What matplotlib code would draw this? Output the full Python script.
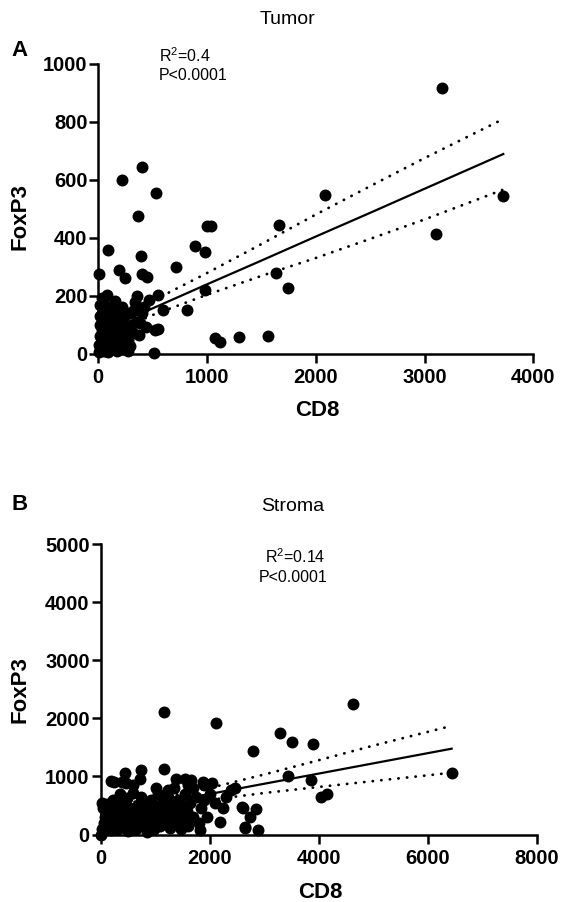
import numpy as np
import matplotlib
matplotlib.use("Agg")
from matplotlib import pyplot as plt

plt.rcParams['font.family'] = ['Liberation Sans', 'DejaVu Sans']
plt.rcParams['mathtext.fontset'] = 'custom'
plt.rcParams['mathtext.rm'] = 'Liberation Sans'

# panel A - tumor
tumor_cd8 = [3162, 3724, 3107, 2085, 1661, 1630, 1740, 1556,
             400, 215, 531, 368, 1000, 1035, 886, 983, 86, 390, 712, 10,
             194, 246, 400, 446, 983, 814, 599, 553, 470, 353, 338, 77,
             16, 123, 522, 545, 513, 1075, 1121, 1290, 375,
             5, 10, 12, 15, 20, 25, 30, 35, 40, 45, 50, 55, 60, 65, 70,
             80, 85, 90, 95, 100, 110, 120, 130, 140, 150, 160, 170, 180,
             190, 200, 210, 220, 230, 240, 250, 260, 270, 280, 290, 300,
             320, 330, 350, 380, 400, 420, 440, 270, 30, 150]
tumor_foxp3 = [918, 545, 413, 548, 443, 279, 225, 60,
               643, 599, 553, 476, 440, 442, 371, 350, 357, 337, 298, 273,
               288, 262, 273, 263, 219, 150, 150, 202, 185, 200, 179, 202,
               168, 162, 81, 84, 3, 52, 41, 58, 65,
               5, 30, 60, 100, 130, 15, 45, 80, 110, 150, 10, 170, 60, 25, 130,
               90, 5, 150, 40, 110, 70, 20, 140, 95, 50, 120, 10, 75,
               150, 35, 105, 160, 60, 130, 15, 90, 45, 140, 25, 100,
               70, 150, 110, 105, 140, 160, 90, 8, 190, 180]

# regression line and 95% band
tumor_fit_x = [0, 500, 1000, 1500, 2000, 2500, 3000, 3724]
tumor_fit = [74, 156, 239, 321, 404, 486, 569, 689]
tumor_upper = [99, 182, 278, 378, 480, 578, 675, 810]
tumor_lower = [49, 133, 203, 268, 330, 396, 463, 566]

# panel B - stroma
stroma_cd8 = [4625, 3292, 3518, 3891, 2791, 3445, 3855, 4038, 4160, 6452,
              2619, 2852, 2742, 2650, 2894, 1165, 2124, 187, 444, 749, 1165,
              719, 474, 1391, 1544, 1665, 1880, 2045, 1238, 1024, 2399, 2461,
              2247, 2186, 2595, 2644, 0, 33,
              50, 80, 100, 120, 150, 180, 200, 230, 250, 280, 300, 330, 350,
              380, 400, 430, 450, 480, 500, 520, 550, 580, 600, 620, 650, 680,
              700, 730, 750, 780, 800, 830, 850, 880, 900, 930, 950, 980, 1000,
              1030, 1050, 1080, 1100, 1130, 1150, 1180, 1200, 1230, 1250, 1280,
              1300, 1330, 1350, 1380, 1400, 1430, 1450, 1480, 1500, 1530, 1550,
              1580, 1600, 1650, 1700, 1750, 1800, 1850, 1900, 1950, 2000, 1820,
              1700, 1600, 1900, 600, 400, 250, 100, 60, 30, 2100, 2300]
stroma_foxp3 = [2251, 1742, 1597, 1552, 1437, 1007, 938, 640, 697, 1053,
                451, 439, 306, 107, 77, 2114, 1913, 921, 1053, 1110, 1122,
                950, 881, 960, 960, 930, 900, 880, 766, 795, 766, 795,
                451, 220, 468, 134, 0, 537,
                450, 300, 150, 520, 250, 380, 80, 600, 320, 180, 450, 100, 700,
                280, 520, 150, 380, 620, 60, 250, 450, 180, 720, 330, 100, 500,
                250, 400, 650, 150, 300, 550, 50, 420, 200, 600, 350, 100, 480,
                250, 700, 380, 150, 550, 300, 450, 200, 650, 380, 120,
                520, 280, 800, 420, 180, 600, 350, 100, 500, 250, 700,
                400, 150, 550, 300, 650, 200, 450, 600, 300, 700, 80,
                800, 850, 850, 850, 900, 900, 350, 200, 100, 550, 650]

stroma_fit_x = [0, 1000, 2000, 3000, 4000, 5000, 6440]
stroma_fit = [346, 522, 697, 873, 1048, 1224, 1477]
stroma_upper = [480, 611, 799, 1032, 1278, 1529, 1870]
stroma_lower = [212, 433, 595, 714, 818, 919, 1063]

W, H = 561, 902
fig = plt.figure(figsize=(W / 100, H / 100), dpi=100)


def panel(rect, cd8, foxp3, fit_x, fit, upper, lower, xmax, xstep, ymax, ystep):
    ax = fig.add_axes(rect)
    ax.scatter(cd8, foxp3, s=74, color='black', linewidths=0, zorder=3, clip_on=False)
    ax.plot(fit_x, fit, color='black', lw=1.6, zorder=2)
    for band in (upper, lower):
        ax.plot(fit_x, band, color='black', lw=2.0, linestyle=(0, (0.1, 3.0)),
                dash_capstyle='round', zorder=2)
    ax.set_xlim(0, xmax)
    ax.set_ylim(0, ymax)
    ax.set_xticks(np.arange(0, xmax + 1, xstep))
    ax.set_yticks(np.arange(0, ymax + 1, ystep))
    for s in ('top', 'right'):
        ax.spines[s].set_visible(False)
    for s in ('left', 'bottom'):
        ax.spines[s].set_linewidth(1.8)
    ax.tick_params(direction='out', length=6.3, width=1.8, labelsize=14.5)
    ax.tick_params(axis='x', pad=4)
    ax.tick_params(axis='y', pad=1.5)
    for lab in ax.get_xticklabels() + ax.get_yticklabels():
        lab.set_fontweight('bold')
    return ax


def ftext(px, py, s, **kw):
    fig.text(px / W, 1 - py / H, s, **kw)


panel([98.3 / W, 1 - 353.5 / H, 435 / W, 289.5 / H], tumor_cd8, tumor_foxp3,
      tumor_fit_x, tumor_fit, tumor_upper, tumor_lower, 4000, 1000, 1000, 200)
panel([100.5 / W, 1 - 834.5 / H, 436.2 / W, 290.5 / H], stroma_cd8, stroma_foxp3,
      stroma_fit_x, stroma_fit, stroma_upper, stroma_lower, 8000, 2000, 5000, 1000)

# panel A texts
ftext(287, 19.5, 'Tumor', ha='center', va='center', fontsize=14)
ftext(20, 51, 'A', ha='center', va='center', fontsize=16, fontweight='bold')
ftext(159, 56, r'R$^2$=0.4', ha='left', va='center', fontsize=11.5)
ftext(159, 75, 'P<0.0001', ha='left', va='center', fontsize=11.5)
ftext(317, 410, 'CD8', ha='center', va='center', fontsize=16, fontweight='bold')
ftext(20, 217, 'FoxP3', ha='center', va='center', fontsize=16, fontweight='bold', rotation=90)

# panel B texts
ftext(293, 506, 'Stroma', ha='center', va='center', fontsize=14)
ftext(20, 505, 'B', ha='center', va='center', fontsize=16, fontweight='bold')
ftext(295, 557, r'R$^2$=0.14', ha='center', va='center', fontsize=11.5)
ftext(293, 578, 'P<0.0001', ha='center', va='center', fontsize=11.5)
ftext(320, 892, 'CD8', ha='center', va='center', fontsize=16, fontweight='bold')
ftext(20, 690, 'FoxP3', ha='center', va='center', fontsize=16, fontweight='bold', rotation=90)

fig.savefig('out.png', dpi=100)
